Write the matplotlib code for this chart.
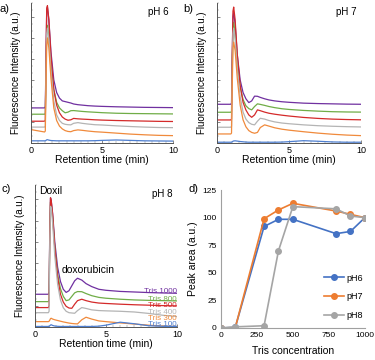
import numpy as np
import matplotlib.pyplot as plt
from matplotlib.ticker import MultipleLocator

plt.rcParams['font.family'] = 'Liberation Sans'

# retention time grid (min) used for every chromatogram
t = [0, 0.95, 1.0, 1.05, 1.1, 1.15, 1.25, 1.4, 1.6, 1.8, 2.0, 2.2, 2.4, 2.6, 2.8,
     3.0, 3.3, 3.6, 4.0, 4.5, 5, 6, 7, 8, 9, 10]

tris = ["Tris 1000", "Tris 800", "Tris 500", "Tris 400", "Tris 300", "Tris 100"]
colors = ["#7030A0", "#70AD47", "#D42A2A", "#B4B4B4", "#F08A3C", "#4E7FD0"]

# pH 6
a_1000 = [25, 25, 26, 60, 95, 97, 88, 65, 45, 36, 32, 30, 29.5, 29, 28.5, 27.8, 27.3, 27, 26.6, 26.3, 26.1, 25.8, 25.6, 25.4, 25.3, 25.2]
a_800 = [20.5, 20.5, 21, 50, 80, 84, 76, 56, 38, 29, 25, 23, 21.5, 22, 23, 23.1, 22.8, 22.5, 22.2, 21.9, 21.6, 21.2, 21, 20.9, 20.8, 20.7]
a_500 = [15.5, 15.5, 16.5, 62, 96, 98, 88, 62, 38, 27, 21.5, 18.5, 17, 16.2, 16.5, 17.5, 17.2, 17, 16.8, 16.5, 16.3, 16, 15.8, 15.6, 15.4, 15.3]
a_400 = [11.3, 11.3, 12, 50, 78, 82, 74, 52, 30, 20, 16, 14, 13.3, 13, 12.9, 14, 14.5, 14, 13.5, 13, 12.8, 12.2, 11.7, 11.3, 11, 10.9]
a_300 = [9.5, 7.8, 8.5, 40, 70, 75, 68, 46, 25, 16, 12, 10, 8.8, 8.2, 8, 8.8, 9.3, 9, 8.5, 8, 7.7, 7, 6.3, 5.8, 5.4, 5.2]
a_100 = [1.5, 1.5, 1.5, 1.8, 2.2, 2.3, 2, 1.7, 1.6, 1.5, 1.5, 1.5, 1.5, 1.5, 1.5, 1.5, 1.5, 1.5, 1.5, 1.6, 1.8, 2.1, 1.8, 1.5, 1.4, 1.3]

# pH 7
b_1000 = [27.6, 27.6, 28.5, 62, 90, 93, 85, 63, 45, 36, 31.5, 28.8, 30, 33.4, 33.3, 32.5, 31.5, 30.7, 30, 29.4, 29, 28.4, 28.1, 27.9, 27.7, 27.6]
b_800 = [21.9, 21.9, 22.5, 55, 82, 86, 78, 57, 40, 31, 26.5, 24.5, 23.6, 26, 27.9, 27.5, 26.8, 26, 25.2, 24.4, 23.9, 23.2, 22.7, 22.3, 22.1, 22]
b_500 = [16.4, 16.4, 17, 62, 94, 97, 88, 63, 41, 29, 23.5, 20, 18.3, 20, 23.6, 23, 22, 21.2, 20.5, 19.8, 19.2, 18.2, 17.5, 17, 16.7, 16.5]
b_400 = [11.2, 11.2, 12, 50, 78, 82, 74, 53, 33, 22, 17, 14.5, 13.3, 12.9, 15.5, 17.6, 17, 16, 15, 14.2, 13.7, 12.9, 12.3, 11.9, 11.6, 11.4]
b_300 = [6.4, 6.4, 7, 40, 68, 72, 66, 46, 27, 16.5, 11.5, 8.8, 7.5, 6.9, 7.5, 11, 12.9, 12, 10.8, 9.8, 9.1, 8, 7, 6.2, 5.6, 5.2]
b_100 = [0.5, 0.5, 0.5, 0.8, 1.2, 1.4, 1.5, 1.3, 1, 0.8, 0.6, 0.5, 0.5, 0.5, 0.5, 0.5, 0.5, 0.5, 0.5, 0.6, 0.9, 1.6, 1.2, 0.7, 0.5, 0.5]

# pH 8
c_1000 = [23, 23, 24.5, 70, 91, 89, 80, 60, 42, 32, 26.5, 24.3, 25.5, 29, 32.5, 34.3, 33, 30.5, 28.4, 26.5, 25.8, 25, 24.6, 24.2, 23.9, 23.7]
c_800 = [17.8, 17.8, 19, 66, 88, 86, 77, 56, 37, 27, 21.5, 18.5, 19, 21.5, 24, 24.9, 24.8, 23.5, 22, 20.8, 20.2, 19.5, 19, 18.7, 18.5, 18.3]
c_500 = [13.6, 13.6, 15, 68, 91, 89, 79, 56, 35, 23, 17.5, 14.5, 13.3, 13.1, 16, 18.5, 19.5, 18.5, 17.5, 16.8, 16.5, 16, 15.6, 15.3, 15, 14.8]
c_400 = [10, 10, 11, 60, 85, 84, 73, 50, 30, 19, 13.5, 11, 10, 9.8, 9.6, 11.5, 13.6, 13, 12, 11.5, 11.3, 11, 10.5, 9.5, 8.2, 7.3]
c_300 = [3.7, 3.7, 4, 4.8, 5.8, 6.1, 5.5, 5, 4.5, 4, 3.5, 3.1, 2.7, 2.4, 2.2, 2.1, 5, 6.8, 5.5, 4.2, 3.7, 2.8, 2, 1.2, 0.6, 0.3]
c_100 = [0.3, 0.3, 0.3, 0.8, 1.3, 1.5, 1.0, 0.6, 0.4, 0.3, 0.3, 0.3, 0.3, 0.3, 0.3, 0.3, 0.3, 0.3, 0.3, 0.5, 1.2, 3.3, 2.2, 0.8, 0.4, 0.3]

# peak area vs Tris concentration
conc = [0, 100, 300, 400, 500, 800, 900, 1000]
ph6 = [0, 0.5, 92, 98.5, 98.5, 85.5, 87.5, 100]
ph7 = [0, 0.3, 99, 107, 113, 106, 103, 100]
ph8 = [0, 1, 2, 70, 110, 108, 101.5, 100]

fig = plt.figure(figsize=(3.75, 3.6), dpi=100)


def chrom(ax, traces, ph):
    for y, c in zip(traces, colors):
        ax.plot(t, y, color=c, lw=0.9)
    ax.set_xlim(0, 10)
    ax.set_ylim(0, 100)
    for s in ["top", "right"]:
        ax.spines[s].set_visible(False)
    ax.spines["left"].set_linewidth(0.7)
    ax.spines["bottom"].set_linewidth(0.7)
    ax.spines["left"].set_color("#555555")
    ax.spines["bottom"].set_color("#555555")
    ax.xaxis.set_major_locator(MultipleLocator(5))
    ax.xaxis.set_minor_locator(MultipleLocator(0.5))
    ax.yaxis.set_major_locator(MultipleLocator(15))
    ax.yaxis.set_minor_locator(MultipleLocator(5))
    ax.tick_params(direction="in", length=2.5, width=0.5, color="#555555", labelsize=6.5, pad=2)
    ax.tick_params(which="minor", direction="in", length=1.2, width=0.3, color="#777777")
    ax.set_yticklabels([])
    ax.set_xlabel("Retention time (min)", fontsize=7.5, labelpad=0)
    ax.set_ylabel("Fluorescence Intensity (a.u.)", fontsize=7, labelpad=4)
    ax.text(0.97, 0.97, ph, transform=ax.transAxes, ha="right", va="top", fontsize=7)


ax1 = fig.add_axes([0.083, 0.603, 0.378, 0.389])
chrom(ax1, [a_1000, a_800, a_500, a_400, a_300, a_100], "pH 6")
ax2 = fig.add_axes([0.579, 0.603, 0.384, 0.389])
chrom(ax2, [b_1000, b_800, b_500, b_400, b_300, b_100], "pH 7")
ax3 = fig.add_axes([0.093, 0.092, 0.379, 0.394])
c_traces = [c_1000, c_800, c_500, c_400, c_300, c_100]
chrom(ax3, c_traces, "pH 8")
ax3.text(0.03, 0.99, "Doxil", transform=ax3.transAxes, ha="left", va="top", fontsize=7.5)
ax3.text(0.19, 0.40, "doxorubicin", transform=ax3.transAxes, ha="left", va="center", fontsize=7.5)
label_y = [24.6, 19.6, 15.0, 10.2, 5.8, 1.6]
for ly, c, lab in zip(label_y, colors, tris):
    ax3.text(10, ly, lab, color=c, ha="right", va="center", fontsize=5.8)

ax4 = fig.add_axes([0.589, 0.089, 0.384, 0.383])
ax4.plot(conc, ph6, "-o", color="#4472C4", lw=1.2, ms=4, label="pH6")
ax4.plot(conc, ph7, "-o", color="#ED7D31", lw=1.2, ms=4, label="pH7")
ax4.plot(conc, ph8, "-o", color="#A5A5A5", lw=1.2, ms=4, label="pH8")
ax4.set_xlim(0, 1000)
ax4.set_ylim(0, 125)
ax4.set_xticks([0, 250, 500, 750, 1000])
ax4.set_yticks([0, 25, 50, 75, 100, 125])
for s in ["top", "right"]:
    ax4.spines[s].set_visible(False)
for s in ["left", "bottom"]:
    ax4.spines[s].set_color("#A0A0A0")
    ax4.spines[s].set_linewidth(0.8)
ax4.tick_params(length=0, labelsize=6, pad=3)
ax4.set_xlabel("Tris concentration", fontsize=7.5, labelpad=5)
ax4.set_ylabel("Peak area (a.u.)", fontsize=7.5, labelpad=3)
ax4.legend(loc="center left", bbox_to_anchor=(0.66, 0.225), frameon=False, fontsize=6.5,
           labelspacing=1.1, handlelength=2.2, handletextpad=0.3)

fig.text(0.0, 0.975, "a)", fontsize=8, va="center")
fig.text(0.488, 0.975, "b)", fontsize=8, va="center")
fig.text(0.005, 0.475, "c)", fontsize=8, va="center")
fig.text(0.502, 0.475, "d)", fontsize=8, va="center")

fig.savefig("out.png", dpi=100)
